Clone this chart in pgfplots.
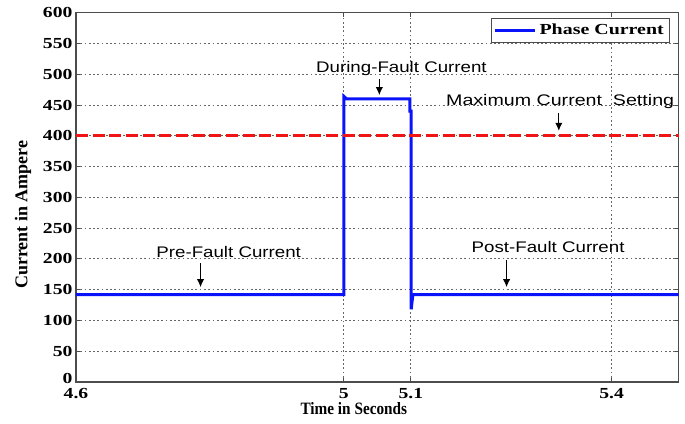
\documentclass[border=0pt]{standalone}
\usepackage{fontspec}
\setmainfont{Liberation Serif}
\newfontfamily\arial{Liberation Sans}
\usepackage{pgfplots}
\pgfplotsset{compat=1.18}
\usetikzlibrary{arrows.meta}
\usepackage{graphicx}

\definecolor{phaseblue}{RGB}{10,20,250}
\definecolor{limitred}{RGB}{240,20,20}

% phase current: pre-fault, fault interval 5.0-5.1 s, post-fault
\pgfplotstableread{
t      I
4.600  142
5.000  142
5.000  464
5.004  460
5.0985 460
5.0985 440
5.1005 440
5.1005 118
5.1030 142
5.500  142
}\phasecurrent

\newcommand{\ann}[1]{\scalebox{1.22}[1]{\arial\fontsize{11.5}{13}\selectfont #1}}
\newcommand{\tl}[1]{\scalebox{1.28}[1]{\fontsize{11.5}{13}\selectfont\bfseries #1}}

\begin{document}
\begin{tikzpicture}
\path[use as bounding box] (-57pt,-31.5pt) rectangle (456.75pt,286.5pt);
\begin{axis}[
  at={(0,0)}, anchor=south west,
  scale only axis,
  width=452pt, height=277pt,
  xmin=4.6, xmax=5.5, ymin=0, ymax=600,
  xtick={4.6,5,5.1,5.4},
  xticklabels={\tl{4.6},\tl{5},\tl{5.1},\tl{5.4}},
  ytick={0,50,...,600},
  yticklabels={\raisebox{5pt}{\tl{0}},\tl{50},\tl{100},\tl{150},\tl{200},\tl{250},\tl{300},
    \tl{350},\tl{400},\tl{450},\tl{500},\tl{550},\tl{600}},
  yticklabel style={inner sep=0.5pt, xshift=-2pt},
  xticklabel style={inner sep=0.5pt, yshift=-4.2pt},
  grid=major,
  grid style={dash pattern=on 1.3pt off 1.9pt, black!60, line width=0.7pt},
  axis line style={black!70, line width=1pt},
  tick align=inside,
  major tick length=3pt,
  tick style={black!70, line width=0.6pt},
  xlabel={\scalebox{0.88}[1]{\fontsize{13}{15}\selectfont\bfseries Time in Seconds}},
  ylabel={\fontsize{13.5}{15}\selectfont\bfseries Current in Ampere},
  xlabel style={at={(axis description cs:0.461,0)}, anchor=north, yshift=-12pt},
  ylabel style={at={(axis description cs:0,0.453)}, anchor=south, yshift=30pt},
  legend style={at={(axis description cs:0.985,0.985)}, anchor=north east,
    draw=black!70, line width=0.8pt, inner sep=2pt},
  legend cell align=left,
  legend image code/.code={\draw[#1, line width=2.3pt] (0pt,0pt) -- (30pt,0pt);},
  clip=false,
]
\addplot[phaseblue, line width=2.3pt, line join=miter] table[x=t, y=I] {\phasecurrent};
\addlegendentry{\scalebox{1.3}[1]{\fontsize{11.5}{13}\selectfont\bfseries Phase Current}}

\addplot[limitred, line width=2.3pt, dash pattern=on 9pt off 3.5pt, forget plot]
  coordinates {(4.6,400) (5.5,400)};

% annotations
\tikzset{annarrow/.style={-{Latex[length=6pt,width=5.5pt]}, line width=0.9pt}}
\node[anchor=base] at (axis cs:4.828,202) {\ann{Pre-Fault Current}};
\draw[annarrow] (axis cs:4.786,193) -- (axis cs:4.786,154);

\node[anchor=base] at (axis cs:5.086,502) {\ann{During-Fault Current}};
\draw[annarrow] (axis cs:5.053,492) -- (axis cs:5.053,466);

\node[anchor=base] at (axis cs:5.323,449) {\scalebox{1.28}[1]{\arial\fontsize{11.5}{13}\selectfont Maximum Current\ \ Setting}};
\draw[annarrow] (axis cs:5.321,437) -- (axis cs:5.321,408);

\node[anchor=base] at (axis cs:5.305,210) {\ann{Post-Fault Current}};
\draw[annarrow] (axis cs:5.243,198) -- (axis cs:5.243,154);
\end{axis}
\end{tikzpicture}
\end{document}
